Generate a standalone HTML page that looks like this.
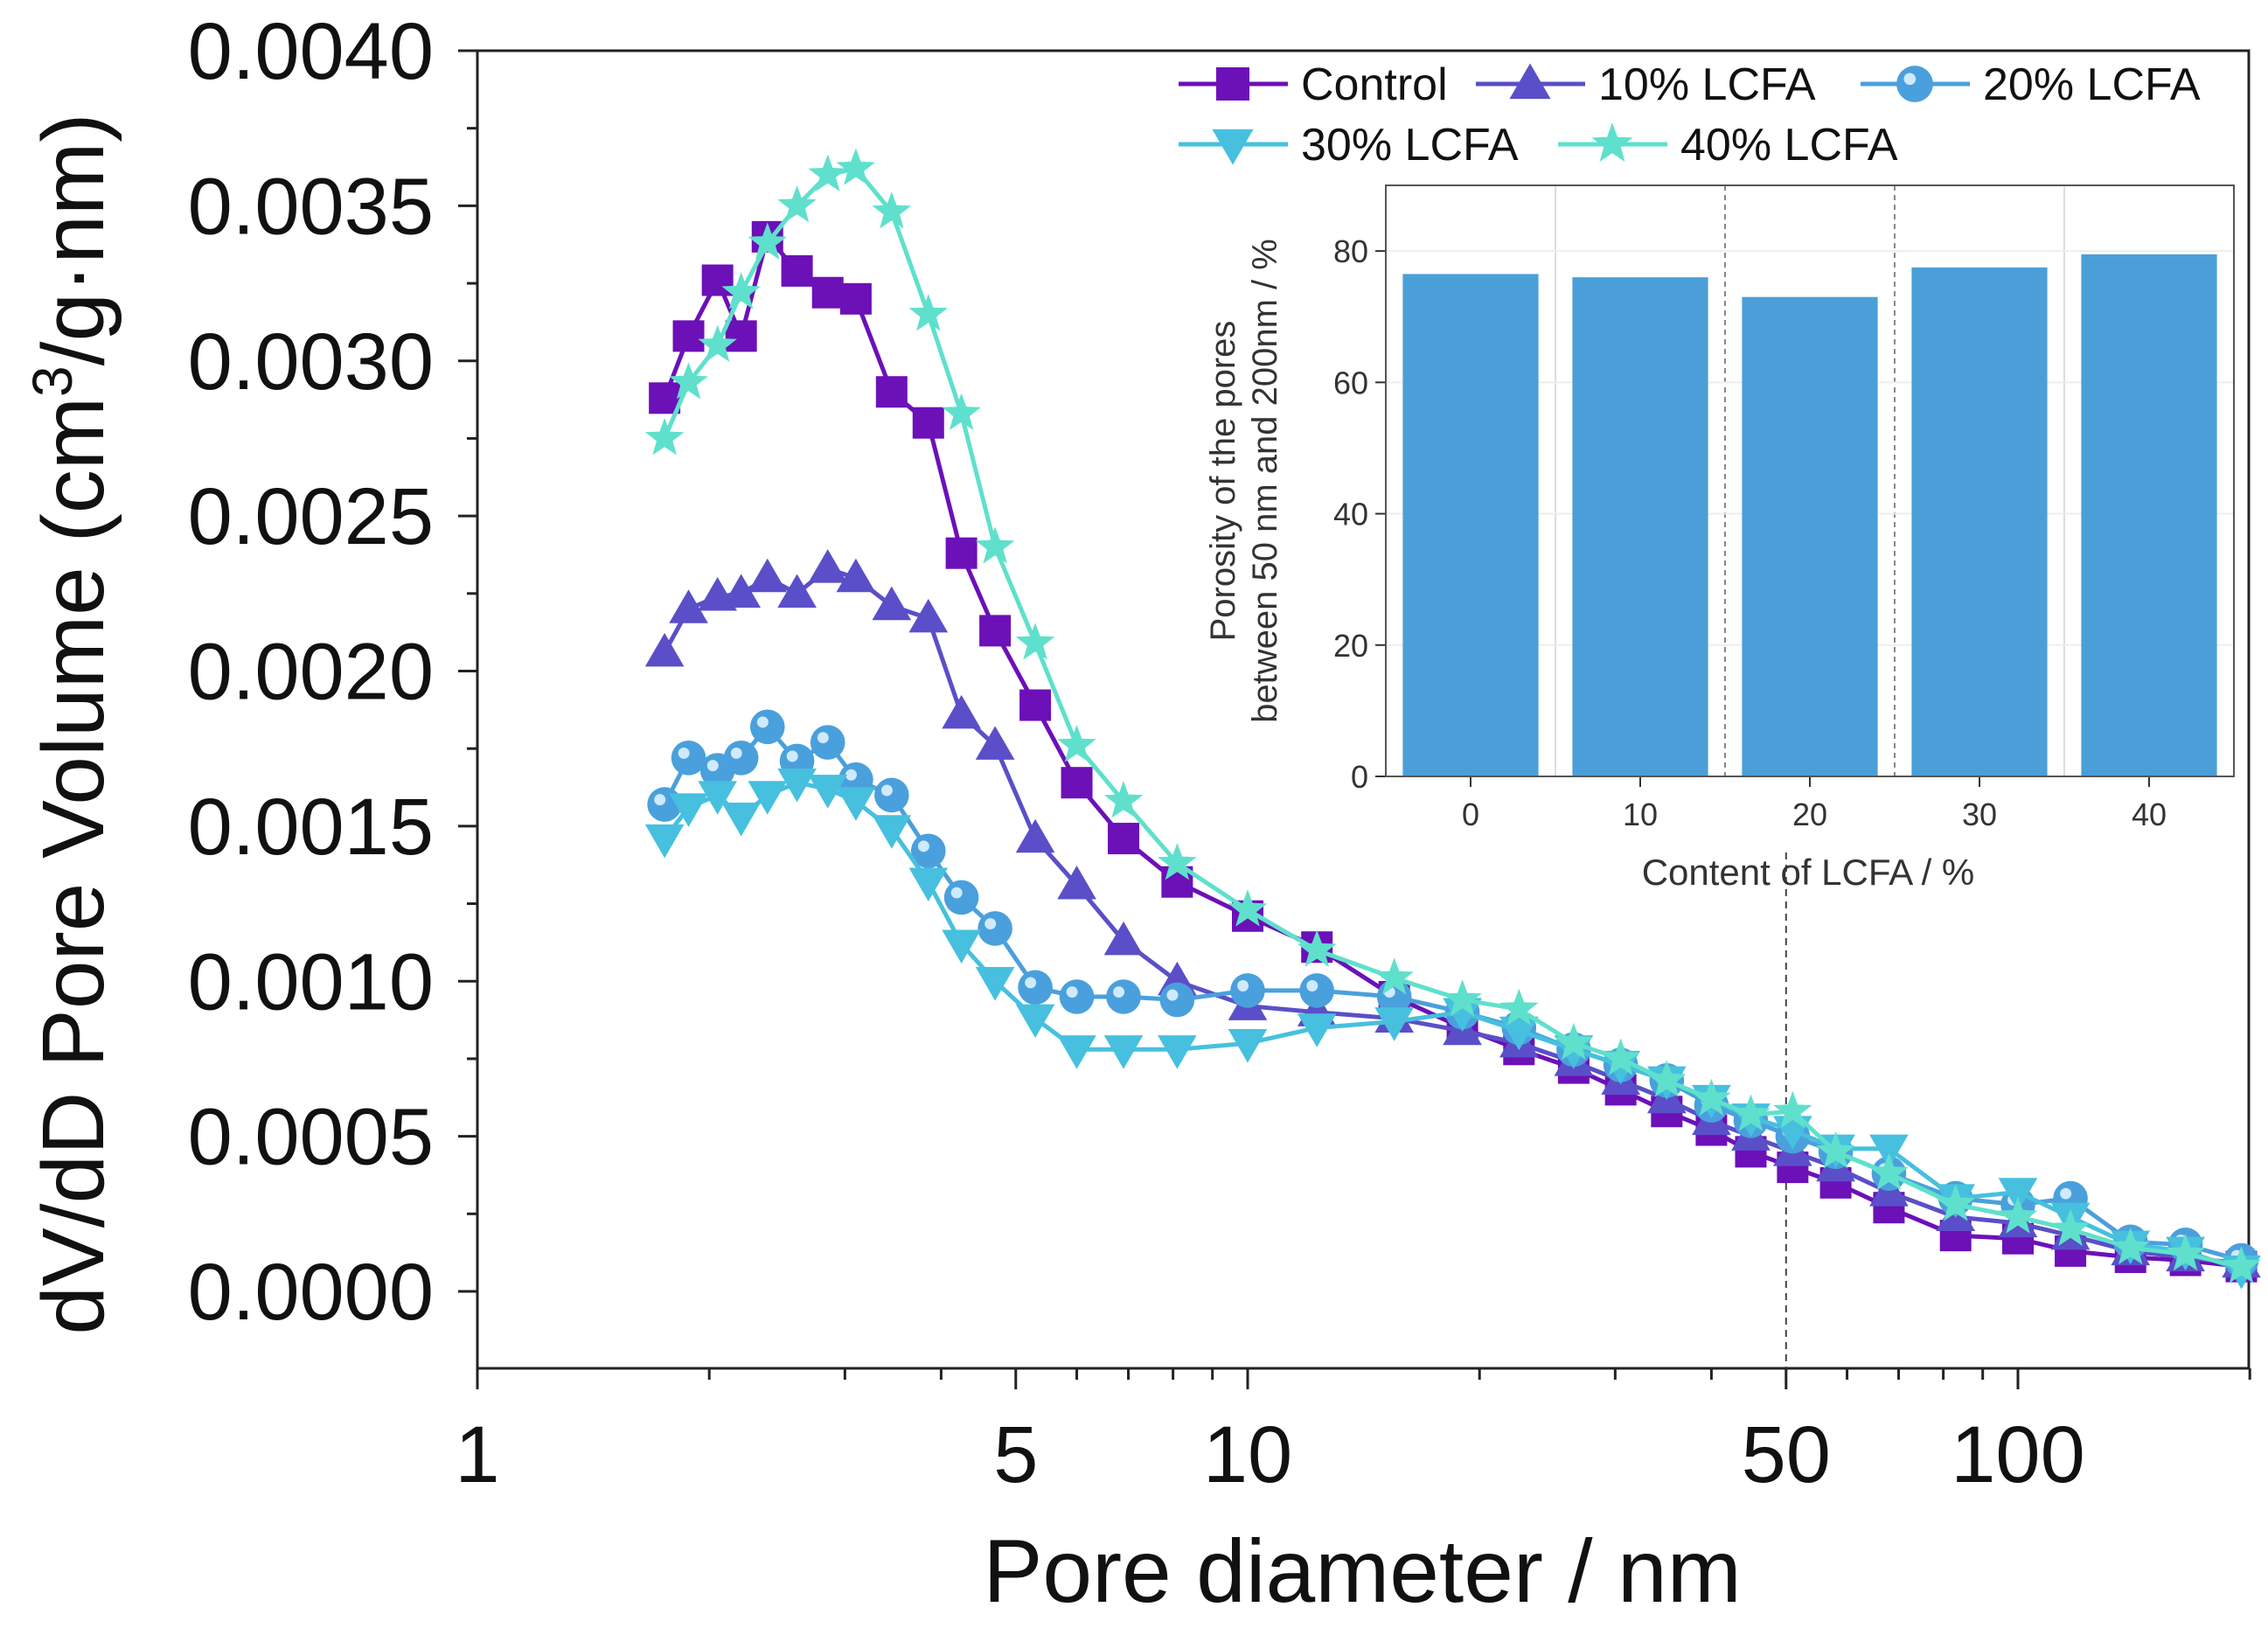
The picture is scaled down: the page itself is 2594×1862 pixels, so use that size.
<!DOCTYPE html>
<html><head><meta charset="utf-8"><style>
html,body{margin:0;padding:0;background:#fff}
svg{display:block;font-family:"Liberation Sans",Arial,sans-serif}
</style></head><body>
<svg id="chart" width="2594" height="1862" viewBox="0 0 2594 1862" xmlns="http://www.w3.org/2000/svg">
<g id="main"></g>
<g id="inset"></g>
<g id="legend"></g>
</svg>
<script>
const poreDiameters=[1.75,1.88,2.05,2.2,2.38,2.6,2.85,3.1,3.45,3.85,4.25,4.7,5.3,6.0,6.9,8.1,10,12.3,15.5,19,22.5,26.5,30.5,35,40,45,51,58,68,83,100,117,140,165,195];
const controlValues=[0.00288,0.00308,0.00326,0.00308,0.00340,0.00329,0.00322,0.00320,0.00290,0.00280,0.00238,0.00213,0.00189,0.00164,0.00146,0.00132,0.00121,0.00111,0.00095,0.00085,0.00078,0.00072,0.00065,0.00058,0.00052,0.00045,0.00040,0.00035,0.00027,0.00018,0.00017,0.00013,0.00011,0.00010,0.00008];
const lcfa10Values=[0.00206,0.00220,0.00224,0.00225,0.00230,0.00225,0.00233,0.00230,0.00221,0.00217,0.00186,0.00176,0.00146,0.00131,0.00113,0.00100,0.00092,0.00090,0.00088,0.00084,0.00080,0.00074,0.00068,0.00062,0.00055,0.00050,0.00045,0.00040,0.00032,0.00024,0.00022,0.00018,0.00013,0.00011,0.00009];
const lcfa20Values=[0.00157,0.00172,0.00168,0.00172,0.00182,0.00171,0.00177,0.00165,0.00160,0.00142,0.00127,0.00117,0.00098,0.00095,0.00095,0.00094,0.00097,0.00097,0.00095,0.00090,0.00085,0.00078,0.00073,0.00068,0.00060,0.00055,0.00050,0.00045,0.00038,0.00030,0.00028,0.00030,0.00016,0.00015,0.00010];
const lcfa30Values=[0.00146,0.00156,0.00160,0.00153,0.00160,0.00164,0.00162,0.00158,0.00149,0.00132,0.00112,0.00100,0.00088,0.00078,0.00078,0.00078,0.00080,0.00085,0.00087,0.00090,0.00084,0.00078,0.00073,0.00068,0.00062,0.00056,0.00052,0.00046,0.00046,0.00030,0.00032,0.00024,0.00015,0.00013,0.00007];
const lcfa40Values=[0.00275,0.00293,0.00305,0.00322,0.00338,0.00350,0.00360,0.00362,0.00348,0.00315,0.00283,0.00240,0.00209,0.00176,0.00158,0.00138,0.00123,0.00110,0.00101,0.00094,0.00091,0.00080,0.00075,0.00068,0.00062,0.00057,0.00058,0.00045,0.00038,0.00028,0.00024,0.00020,0.00014,0.00012,0.00008];
const yTickValues=[0,0.0005,0.001,0.0015,0.002,0.0025,0.003,0.0035,0.004];
const yTickLabels=["0.0000","0.0005","0.0010","0.0015","0.0020","0.0025","0.0030","0.0035","0.0040"];
const xTickValues=[1,5,10,50,100];
const xTickLabels=["1","5","10","50","100"];
const insetCategories=[0,10,20,30,40];
const insetValues=[76.5,76,73,77.5,79.5];
const insetYTicks=[0,20,40,60,80];

const NS="http://www.w3.org/2000/svg";
function mk(parent,tag,attrs,text){const e=document.createElementNS(NS,tag);for(const k in attrs)e.setAttribute(k,attrs[k]);if(text!==undefined)e.textContent=text;parent.appendChild(e);return e;}

const L=546,R=2572,T=58,B=1565,Y0=1477,Y40=58;
const xs=v=>L+Math.log10(v)*881;
const ys=v=>Y0-(v/0.004)*(Y0-Y40);
const main=document.getElementById('main');
let fr=mk(main,'rect',{x:L,y:T,width:R-L,height:B-T,fill:'none',stroke:'#222','stroke-width':3});


for(let i=0;i<yTickValues.length;i++){
  const y=ys(yTickValues[i]);
  let t=mk(main,'line',{x1:L-22,x2:L,y1:y,y2:y,stroke:'#222','stroke-width':3});
  
  
  let lb=mk(main,'text',{x:496,y:y+32,'text-anchor':'end','font-size':92,fill:'#111'},yTickLabels[i]);
  
  
  if(i<yTickValues.length-1){
    const ym=ys(yTickValues[i]+0.00025);
    let m=mk(main,'line',{x1:L-12,x2:L,y1:ym,y2:ym,stroke:'#222','stroke-width':3});
    
    
  }
}
for(let d=1;d<=200;d*= 10){
  for(let k=1;k<10;k++){const v=d*k;if(v>200)break;const x=xs(v);const major=xTickValues.includes(v);
    let t=mk(main,'line',{x1:x,x2:x,y1:B,y2:B+(major?24:13),stroke:'#222','stroke-width':3});
    
    
  }
}
for(let i=0;i<xTickValues.length;i++){
  let lb=mk(main,'text',{x:xs(xTickValues[i]),y:1695,'text-anchor':'middle','font-size':92,fill:'#111'},xTickLabels[i]);
  
  
}
let xt=mk(main,'text',{x:1558,y:1832,'text-anchor':'middle','font-size':102,fill:'#111'},'Pore diameter / nm');


let yt=mk(main,'text',{x:0,y:0,'text-anchor':'middle','font-size':100,fill:'#111',transform:'translate(118,828) rotate(-90)'});


yt.innerHTML='dV/dD Pore Volume (cm<tspan dy="-36" font-size="64">3</tspan><tspan dy="36">/g·nm)</tspan>';
let dl=mk(main,'line',{x1:xs(50),x2:xs(50),y1:975,y2:B,stroke:'#444','stroke-width':2,'stroke-dasharray':'8,6'});



const series=[
 {name:'Control',vals:controlValues,color:'#6c10b8',marker:'square'},
 {name:'10% LCFA',vals:lcfa10Values,color:'#5a4fc8',marker:'tri'},
 {name:'20% LCFA',vals:lcfa20Values,color:'#4aa0dc',marker:'circle'},
 {name:'30% LCFA',vals:lcfa30Values,color:'#46c0de',marker:'dtri'},
 {name:'40% LCFA',vals:lcfa40Values,color:'#5fe0cc',marker:'star'}
];
function marker(g,type,x,y,c,s){
  let e;
  if(type==='square')e=mk(g,'rect',{x:x-s/2,y:y-s/2,width:s,height:s,fill:c});
  else if(type==='tri')e=mk(g,'polygon',{points:`${x},${y-s*0.62} ${x-s*0.62},${y+s*0.45} ${x+s*0.62},${y+s*0.45}`,fill:c});
  else if(type==='dtri')e=mk(g,'polygon',{points:`${x},${y+s*0.62} ${x-s*0.62},${y-s*0.45} ${x+s*0.62},${y-s*0.45}`,fill:c});
  else if(type==='circle'){e=mk(g,'circle',{cx:x,cy:y,r:s*0.55,fill:c});let h=mk(g,'circle',{cx:x-s*0.15,cy:y-s*0.15,r:s*0.18,fill:'#cfeaff'});}
  else{let p=[];for(let i=0;i<10;i++){const r=i%2?s*0.27:s*0.65;const a=-Math.PI/2+i*Math.PI/5;p.push((x+r*Math.cos(a)).toFixed(1)+','+(y+r*Math.sin(a)).toFixed(1));}e=mk(g,'polygon',{points:p.join(' '),fill:c});}
  return e;
}
series.forEach(s=>{
  const g=mk(main,'g',{});
  
  
  const pts=s.vals.map((v,i)=>xs(poreDiameters[i]).toFixed(1)+','+ys(v).toFixed(1)).join(' ');
  let pl=mk(g,'polyline',{points:pts,fill:'none',stroke:s.color,'stroke-width':5});
  
  
  s.vals.forEach((v,i)=>{const m=marker(g,s.marker,xs(poreDiameters[i]),ys(v),s.color,36);
    
    });
});

const lg=document.getElementById('legend');
const legPos=[[1348,96],[1688,96],[2128,96],[1348,165],[1782,165]];
series.forEach((s,i)=>{
  const [lx,ly]=legPos[i];
  const g=mk(lg,'g',{});
  
  
  let ln=mk(g,'line',{x1:lx,x2:lx+125,y1:ly,y2:ly,stroke:s.color,'stroke-width':5});
  
  
  let m=marker(g,s.marker,lx+62,ly,s.color,38);
  
  
  let t=mk(g,'text',{x:lx+140,y:ly+18,'font-size':52,fill:'#111'},s.name);
  
  
});

const IL=1585,IR=2555,IT=212,IB=888;
const ix=v=>IL+(v+5)/50*(IR-IL);
const iy=v=>IB-v/90*(IB-IT);
const ins=document.getElementById('inset');
let bg=mk(ins,'rect',{x:IL,y:IT,width:IR-IL,height:IB-IT,fill:'#fff'});


[5,15,25,35].forEach((v,i)=>{let g=mk(ins,'line',{x1:ix(v),x2:ix(v),y1:IT,y2:IB,stroke:(i==1||i==2)?'#888':'#ddd','stroke-width':2,'stroke-dasharray':(i==1||i==2)?'6,5':'none'});
  });
insetYTicks.forEach(v=>{if(v>0){let g=mk(ins,'line',{x1:IL,x2:IR,y1:iy(v),y2:iy(v),stroke:'#eee','stroke-width':2});}});
insetCategories.forEach((c,i)=>{
  let b=mk(ins,'rect',{x:ix(c-4),y:iy(insetValues[i]),width:ix(c+4)-ix(c-4),height:IB-iy(insetValues[i]),fill:'#4b9fd8'});
  
  
  let t=mk(ins,'line',{x1:ix(c),x2:ix(c),y1:IB,y2:IB+12,stroke:'#333','stroke-width':2});
  
  let l=mk(ins,'text',{x:ix(c),y:IB+56,'text-anchor':'middle','font-size':36,fill:'#333'},String(c));
  
});
insetYTicks.forEach(v=>{
  let t=mk(ins,'line',{x1:IL-12,x2:IL,y1:iy(v),y2:iy(v),stroke:'#333','stroke-width':2});
  
  let l=mk(ins,'text',{x:IL-20,y:iy(v)+13,'text-anchor':'end','font-size':36,fill:'#333'},String(v));
  
});
let ifr=mk(ins,'rect',{x:IL,y:IT,width:IR-IL,height:IB-IT,fill:'none',stroke:'#555','stroke-width':2});

let ixt=mk(ins,'text',{x:2068,y:1012,'text-anchor':'middle','font-size':42,fill:'#333'},'Content of LCFA / %');

let iyt1=mk(ins,'text',{x:0,y:0,'text-anchor':'middle','font-size':40,fill:'#333',transform:'translate(1412,550) rotate(-90)'},'Porosity of the pores');

let iyt2=mk(ins,'text',{x:0,y:0,'text-anchor':'middle','font-size':40,fill:'#333',transform:'translate(1460,550) rotate(-90)'},'between 50 nm and 200nm / %');

</script>
</body></html>
